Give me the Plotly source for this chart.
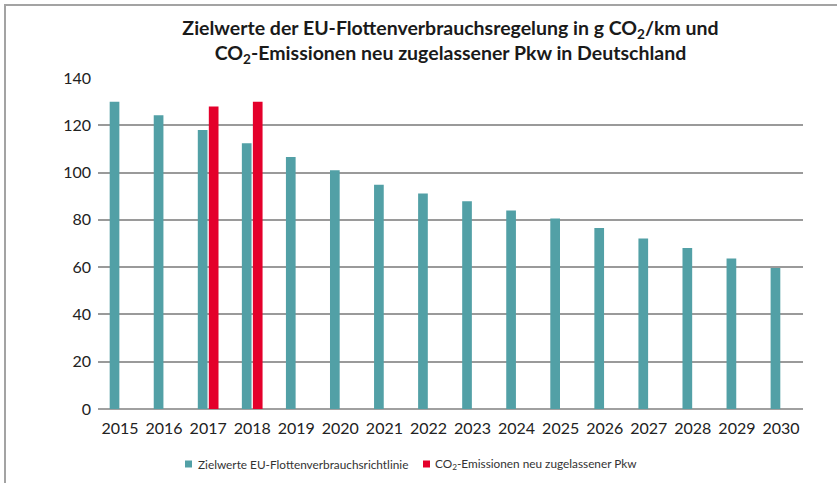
import plotly.graph_objects as go

# Jahre und Werte (g CO2/km)
jahre = [str(j) for j in range(2015, 2031)]
zielwerte = [130.0, 124.2, 118.0, 112.4, 106.6, 101.0, 94.9, 91.2,
             87.9, 84.0, 80.6, 76.6, 72.1, 68.1, 63.7, 59.6]
emissionen = [None, None, 127.9, 130.0, None, None, None, None,
              None, None, None, None, None, None, None, None]
y_ticks = [0, 20, 40, 60, 80, 100, 120, 140]

TEAL = "#52a0a6"
ROT = "#e4002b"
FONT = "Lato, 'Open Sans', sans-serif"

name_ziel = "Zielwerte EU-Flottenverbrauchsrichtlinie"
name_emis = "CO<sub>2</sub>-Emissionen neu zugelassener Pkw"

fig = go.Figure()
fig.add_trace(go.Bar(x=jahre, y=zielwerte, name=name_ziel,
                     marker=dict(color=TEAL, line=dict(width=0))))
fig.add_trace(go.Bar(x=jahre, y=emissionen, name=name_emis,
                     marker=dict(color=ROT, line=dict(width=0))))

W, H = 837, 483
L, R, T, B = 98, 34, 78, 74
pw, ph = W - L - R, H - T - B

def px_x(px):
    return (px - L) / pw

def px_y(py):
    return 1 - (py - T) / ph

# Rahmen links und oben
frame = dict(type="line", xref="paper", yref="paper",
             line=dict(color="#a3a3a3", width=2), layer="above")
shapes = [
    dict(frame, x0=px_x(5), x1=px_x(5), y0=px_y(5), y1=px_y(490)),
    dict(frame, x0=px_x(4), x1=px_x(845), y0=px_y(5), y1=px_y(5)),
]

# Legende unter dem Diagramm: Farbfeld + Beschriftung
legend_items = [(185, 196, TEAL, name_ziel), (423, 433, ROT, name_emis)]
annotations = []
ly = 464
for sq_x, tx_x, col, label in legend_items:
    shapes.append(dict(type="rect", xref="paper", yref="paper",
                       x0=px_x(sq_x), x1=px_x(sq_x + 7),
                       y0=px_y(ly + 3.5), y1=px_y(ly - 3.5),
                       fillcolor=col, line=dict(width=0)))
    annotations.append(dict(text=label, xref="paper", yref="paper",
                            x=px_x(tx_x), y=px_y(ly), xanchor="left",
                            yanchor="middle", showarrow=False,
                            font=dict(size=11.8, color="#333333", family=FONT)))

fig.update_layout(
    width=W, height=H,
    margin=dict(l=L, r=R, t=T, b=B, autoexpand=False),
    paper_bgcolor="white", plot_bgcolor="white",
    font=dict(family=FONT, color="#222222"),
    barmode="group", bargap=0.5, bargroupgap=0.12,
    showlegend=False,
    title=dict(
        text="<b>Zielwerte der EU-Flottenverbrauchsregelung in g CO<sub>2</sub>/km und"
             "<br>CO<sub>2</sub>-Emissionen neu zugelassener Pkw in Deutschland</b>",
        x=0.5, xref="paper", xanchor="center",
        y=1 - 35 / H, yref="container", yanchor="middle",
        font=dict(size=19.5, color="#1a1a1a", family=FONT),
    ),
    shapes=shapes,
    annotations=annotations,
)

fig.update_xaxes(
    type="category", showgrid=False, showline=False, ticks="",
    automargin=False,
    tickfont=dict(size=16, color="#222222"), ticklabelstandoff=8,
)
fig.update_yaxes(
    range=[0, 140], tickvals=y_ticks, showline=False, ticks="",
    automargin=False,
    gridcolor="#9a9a9a", gridwidth=1.5,
    zeroline=True, zerolinecolor="#a0a0a0", zerolinewidth=2,
    tickfont=dict(size=16, color="#222222"), ticklabelstandoff=6,
)

fig.write_html("out.html")
